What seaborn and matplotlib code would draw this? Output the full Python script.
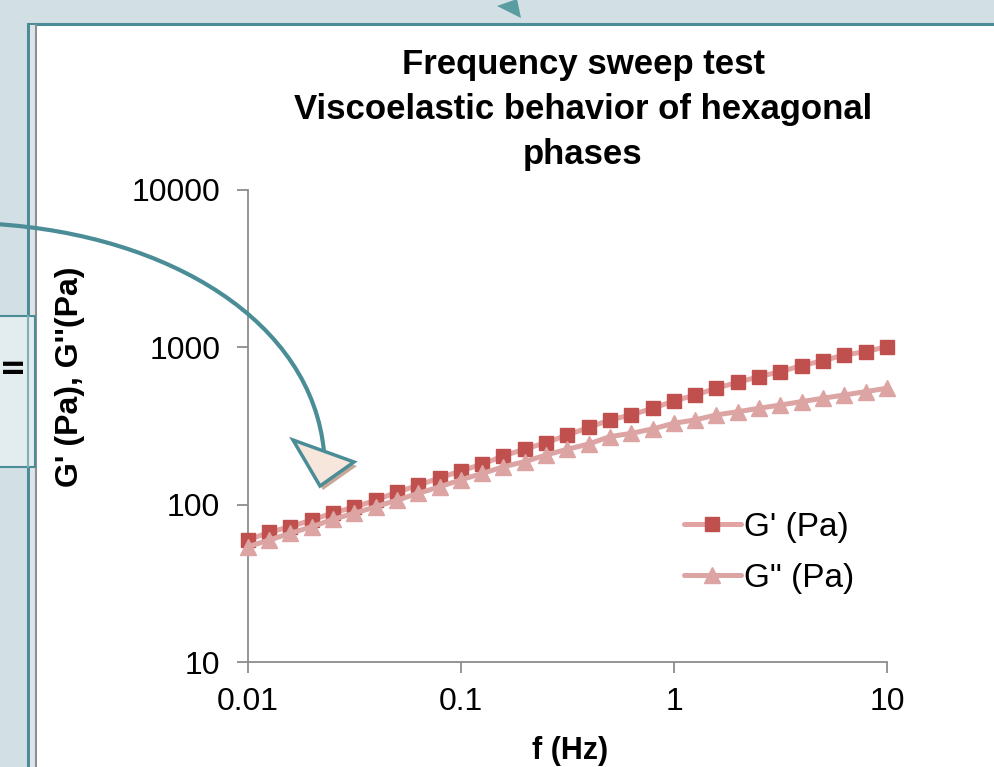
import numpy as np
import pandas as pd
import matplotlib
matplotlib.use("Agg")
import matplotlib.pyplot as plt
import seaborn as sns
from matplotlib.patches import Rectangle, Polygon, PathPatch
from matplotlib.path import Path
from matplotlib.lines import Line2D

# ---------------- data ----------------
freq_hz = [0.01, 0.0126, 0.0158, 0.02, 0.0251, 0.0316, 0.0398, 0.0501, 0.0631, 0.0794,
           0.1, 0.126, 0.158, 0.2, 0.251, 0.316, 0.398, 0.501, 0.631, 0.794,
           1, 1.26, 1.58, 2, 2.51, 3.16, 3.98, 5.01, 6.31, 7.94, 10]
g_storage = [59.7, 66.8, 72.5, 79.9, 88.9, 96.3, 107, 120, 133, 148,
             164, 181, 204, 226, 248, 277, 310, 346, 372, 410,
             456, 498, 550, 600, 651, 701, 765, 823, 895, 939, 1010]
g_loss = [54.1, 59.7, 65.8, 72.5, 80.8, 88.2, 97.1, 107, 118, 130,
          144, 158, 174, 188, 207, 225, 243, 271, 284, 303,
          329, 346, 372, 390, 410, 430, 452, 475, 498, 523, 550]
series_names = ["G' (Pa)", 'G" (Pa)']
x_ticks = [0.01, 0.1, 1, 10]
x_ticklabels = ["0.01", "0.1", "1", "10"]
y_ticks = [10, 100, 1000, 10000]
y_ticklabels = ["10", "100", "1000", "10000"]
title_text = "Frequency sweep test\nViscoelastic behavior of hexagonal\nphases"
x_label = "f (Hz)"
y_label = "G' (Pa), G''(Pa)"

# ---------------- style ----------------
sns.set_style("ticks")
plt.rcParams["font.family"] = ["Liberation Sans", "DejaVu Sans"]
plt.rcParams["text.color"] = "black"
plt.rcParams["axes.labelcolor"] = "black"
plt.rcParams["xtick.color"] = "black"
plt.rcParams["ytick.color"] = "black"

W, H = 994, 767
def P(x, y):
    return (x / W, 1 - y / H)

TEAL = "#4A8D97"
fig = plt.figure(figsize=(W / 100, H / 100), dpi=100, facecolor="#D2DFE4")

# slide decorations
fig.patches.append(Rectangle(P(28, 790), (1030 - 28) / W, (790 - 24) / H,
                             transform=fig.transFigure, facecolor="white",
                             edgecolor=TEAL, lw=2.2, zorder=-5))
fig.patches.append(Rectangle(P(29.5, 790), 5.5 / W, (790 - 25) / H,
                             transform=fig.transFigure, facecolor="#DCE6EA",
                             edgecolor="none", zorder=-4))
fig.add_artist(Line2D([36 / W, 36 / W], [1 - 25 / H, 0], transform=fig.transFigure,
                      color="#8F8F8F", lw=1.5, zorder=-3))
fig.patches.append(Rectangle(P(-5, 467), 40 / W, (467 - 316) / H,
                             transform=fig.transFigure, facecolor="#E3ECEF",
                             edgecolor=TEAL, lw=1.5, zorder=-2))
fig.add_artist(Line2D([28 / W, 28 / W], [1 - 316 / H, 1 - 467 / H], transform=fig.transFigure,
                      color="#7FB0B8", lw=1.5, zorder=-1))
fig.text(*P(14, 365), "II", rotation=90, ha="center", va="center",
         fontsize=21, fontweight="bold", color="black")
fig.patches.append(Polygon([P(497, 6), P(521, 18), P(517, -1)], closed=True,
                           transform=fig.transFigure, facecolor="#5A9DA0",
                           edgecolor="none", zorder=5))

# ---------------- chart ----------------
ax = fig.add_axes([248 / W, 1 - 662 / H, 639 / W, 472 / H])
ax.set_facecolor("none")

df = pd.DataFrame({"f": freq_hz * 2,
                   "G": g_storage + g_loss,
                   "series": [series_names[0]] * len(freq_hz) + [series_names[1]] * len(freq_hz)})

d1 = df[df.series == series_names[0]]
d2 = df[df.series == series_names[1]]
sns.lineplot(data=d1, x="f", y="G", ax=ax, color="#E2A3A2", lw=3.6,
             marker="s", markersize=9.5, markerfacecolor="#C0504D",
             markeredgecolor="#C0504D", markeredgewidth=1,
             label=series_names[0], clip_on=False, zorder=3)
sns.lineplot(data=d2, x="f", y="G", ax=ax, color="#DCA4A3", lw=3.6,
             marker="^", markersize=12, markerfacecolor="#DCA4A3",
             markeredgecolor="#DCA4A3", markeredgewidth=1,
             label=series_names[1], clip_on=False, zorder=4)

ax.set_xscale("log")
ax.set_yscale("log")
ax.set_xlim(0.01, 10)
ax.set_ylim(10, 10000)
ax.set_xticks(x_ticks)
ax.set_xticklabels(x_ticklabels)
ax.set_yticks(y_ticks)
ax.set_yticklabels(y_ticklabels)
ax.minorticks_off()

for s in ["top", "right"]:
    ax.spines[s].set_visible(False)
for s in ["left", "bottom"]:
    ax.spines[s].set_color("#8C8C8C")
    ax.spines[s].set_linewidth(1.3)
ax.tick_params(axis="both", direction="out", length=8, width=1.3, color="#8C8C8C",
               labelsize=23, labelcolor="black")
ax.tick_params(axis="y", pad=12)
ax.tick_params(axis="x", pad=10)

ax.set_xlabel(x_label, fontsize=22, fontweight="bold", va="center", color="black")
ax.xaxis.set_label_coords((570 - 248) / 639, (662 - 751) / 472)
ax.set_ylabel(y_label, fontsize=23, fontweight="bold", va="center", color="black")
ax.yaxis.set_label_coords((70 - 248) / 639, (662 - 377) / 472)

ax.set_title(title_text, fontsize=25, fontweight="bold", x=(583 - 248) / 639,
             pad=19, linespacing=1.45, color="black")

leg = ax.legend(loc="center left", bbox_to_anchor=P(684, 553),
                bbox_transform=fig.transFigure, frameon=False, fontsize=24,
                handlelength=1.7, handletextpad=0.1, labelspacing=0.6,
                borderpad=0, borderaxespad=0)
for t in leg.get_texts():
    t.set_color("black")

# curved arrow on top
shaft = Path([P(-5, 224), P(170, 235), P(312, 322), P(324, 452)],
             [Path.MOVETO, Path.CURVE4, Path.CURVE4, Path.CURVE4])
fig.patches.append(PathPatch(shaft, transform=fig.transFigure, facecolor="none",
                             edgecolor=TEAL, lw=3, zorder=10))
head = [(293, 440), (354, 462), (320, 486)]
fig.patches.append(Polygon([P(x + 3, y + 4) for x, y in head], closed=True,
                           transform=fig.transFigure, facecolor="#C9A898",
                           edgecolor="none", zorder=11))
fig.patches.append(Polygon([P(x, y) for x, y in head], closed=True,
                           transform=fig.transFigure, facecolor="#F7E6DB",
                           edgecolor=TEAL, lw=2.5, zorder=12))

fig.savefig("out.png", dpi=100, facecolor=fig.get_facecolor())
